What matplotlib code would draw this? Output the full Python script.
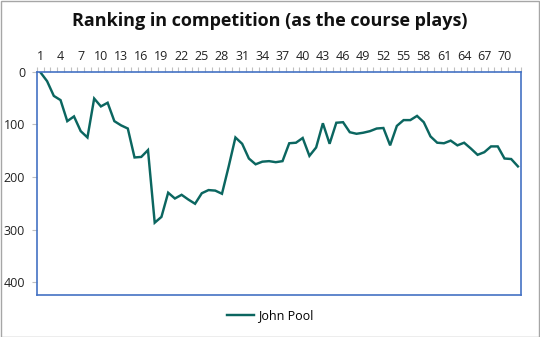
import numpy as np
import matplotlib
matplotlib.use("Agg")
import matplotlib.pyplot as plt
from matplotlib.patches import Rectangle

plt.rcParams['font.family'] = ['Open Sans', 'DejaVu Sans']

# ranking after each round (lower number = better)
rounds = list(range(1, 73))
ranking = [1, 18, 46, 54, 94, 85, 113, 125, 51, 66, 59, 94,
           102, 108, 163, 162, 149, 287, 276, 230, 241, 234, 243, 251,
           231, 225, 226, 232, 180, 125, 137, 165, 176, 171, 170, 172,
           170, 136, 135, 126, 160, 144, 98, 137, 97, 96, 115, 118,
           116, 113, 108, 107, 140, 103, 92, 92, 84, 96, 123, 135,
           136, 131, 140, 135, 146, 158, 153, 142, 142, 165, 166, 180]
label_rounds = list(range(1, 71, 3))
y_ticks = [0, 100, 200, 300, 400]
series_name = "John Pool"

fig = plt.figure(figsize=(5.4, 3.37), dpi=100)
ax = fig.add_axes([37/540, 1 - 295.3/337, (521.3 - 37)/540, (295.3 - 71.7)/337])

ax.plot(rounds, ranking, color="#0b6660", lw=1.75, label=series_name,
        solid_joinstyle="miter")

ax.set_xlim(0.5, 72.5)
ax.set_ylim(425, 0)

ax.xaxis.tick_top()
ax.set_xticks(label_rounds)
ax.set_xticks(np.arange(0.5, 73, 1), minor=True)
ax.tick_params(axis="x", which="major", length=0, pad=6, labelsize=9,
               labelcolor="#222222")
ax.tick_params(axis="x", which="minor", length=3.5, color="#bfbfbf", width=0.8)
ax.set_yticks(y_ticks)
ax.tick_params(axis="y", length=3.5, color="#bfbfbf", width=0.8,
               labelsize=9, labelcolor="#222222", pad=5)

for s in ax.spines.values():
    s.set_color("#4472c4")
    s.set_linewidth(1.2)

fig.suptitle("Ranking in competition (as the course plays)", y=0.965,
             fontsize=13, fontweight="bold", color="#111111")

fig.legend(loc="center", bbox_to_anchor=(0.5, 1 - 316/337), frameon=False,
           fontsize=9, handlelength=2.2, handletextpad=0.3)

fig.patches.append(Rectangle((0.001, 0.001), 0.997, 0.996, transform=fig.transFigure,
                             fill=False, edgecolor="#a6a6a6", lw=1))

fig.savefig("out.png", dpi=100, facecolor="white")
